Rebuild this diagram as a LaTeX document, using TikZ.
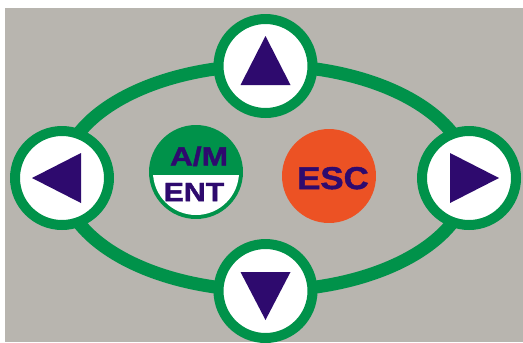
\documentclass[tikz,border=0pt]{standalone}
\usepackage{fontspec}
\setmainfont{Liberation Sans}[BoldFeatures={FakeBold=1.4}]
\usetikzlibrary{positioning}
\definecolor{panelgrey}{HTML}{B8B5AF}
\definecolor{keygreen}{HTML}{00924A}
\definecolor{keypurple}{HTML}{2E0A6E}
\definecolor{escorange}{HTML}{EC5224}
\tikzset{
  arrowkey/.style={circle, draw=keygreen, line width=0.2cm, fill=white,
    minimum size=1.88cm, inner sep=0pt},
  roundkey/.style={circle, minimum size=1.88cm, inner sep=0pt},
  keytri/.style={fill=keypurple},
  keylabel/.style={text=keypurple, inner sep=0pt, text depth=0pt,
    font=\bfseries\fontsize{15}{15}\selectfont},
}
\begin{document}
\begin{tikzpicture}[x=0.02cm, y=-0.02cm]
\useasboundingbox (0,0) rectangle (523,342);
\fill[panelgrey] (5,8) rectangle (523,342);
% ring joining the four arrow keys
\coordinate (ring) at (265.5,178);
\draw[keygreen, line width=0.26cm] (ring) ellipse [x radius=203.5, y radius=112.5];
% arrow keys
\node[arrowkey] (up) at (265.5,66) {};
\node[arrowkey] (down) at (265.5,291) {};
\node[arrowkey] (left) at (62,178) {};
\node[arrowkey] (right) at (469,178) {};
\fill[keytri] ([shift={(0,-30)}]up.center) -- ([shift={(25,19)}]up.center)
  -- ([shift={(-25,19)}]up.center) -- cycle;
\fill[keytri] ([shift={(0,29)}]down.center) -- ([shift={(25,-19)}]down.center)
  -- ([shift={(-25,-19)}]down.center) -- cycle;
\fill[keytri] ([shift={(-30,0)}]left.center) -- ([shift={(19,-25)}]left.center)
  -- ([shift={(19,25)}]left.center) -- cycle;
\fill[keytri] ([shift={(30,0)}]right.center) -- ([shift={(-19,-25)}]right.center)
  -- ([shift={(-19,25)}]right.center) -- cycle;
% A/M - ENT key
\node[roundkey, fill=keygreen] (ament) at (196,172) {};
\begin{scope}
  \clip (140,175) rectangle (250,230);
  \fill[white] (ament.center) circle [radius=43];
\end{scope}
\node[keylabel] (am) at (199,156) {\scalebox{1.2}[1]{A/M}};
\node[keylabel] (ent) at (194,192) {\scalebox{1.15}[1]{ENT}};
% ESC key
\node[roundkey, fill=escorange] (esc) at (329,176) {};
\node[keylabel, font=\bfseries\fontsize{18}{18}\selectfont] (esctext) at (333,178)
  {\scalebox{1.1}[1]{ESC}};
\end{tikzpicture}
\end{document}
